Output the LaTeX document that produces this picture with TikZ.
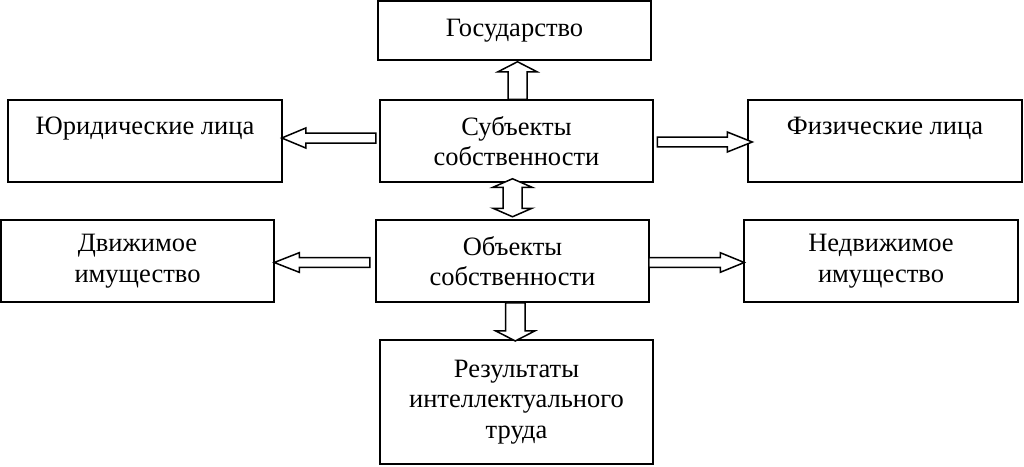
\documentclass[tikz,border=0pt]{standalone}
\usepackage{fontspec}
\setmainfont{Liberation Serif}
\usetikzlibrary{calc}
\tikzset{
  box/.style={draw, line width=1.5pt, rectangle, inner sep=0pt, align=center,
    font=\fontsize{26.5}{30.5}\selectfont},
  arr/.style={draw, line width=1.5pt, fill=white, line join=miter},
}
% vertical single block arrow: start, tip, shaft half width, head half width, head length
\newcommand\varrow[5]{%
  \path[arr] let \p1=(#1), \p2=(#2), \n1={sign(\y2-\y1)} in
   (\x1-#3pt,\y1) -- (\x1-#3pt,\y2-\n1*#5pt) -- (\x1-#4pt,\y2-\n1*#5pt) -- (\x1,\y2)
   -- (\x1+#4pt,\y2-\n1*#5pt) -- (\x1+#3pt,\y2-\n1*#5pt) -- (\x1+#3pt,\y1) -- cycle;}
% horizontal single block arrow
\newcommand\harrow[5]{%
  \path[arr] let \p1=(#1), \p2=(#2), \n1={sign(\x2-\x1)} in
   (\x1,\y1-#3pt) -- (\x2-\n1*#5pt,\y1-#3pt) -- (\x2-\n1*#5pt,\y1-#4pt) -- (\x2,\y1)
   -- (\x2-\n1*#5pt,\y1+#4pt) -- (\x2-\n1*#5pt,\y1+#3pt) -- (\x1,\y1+#3pt) -- cycle;}
% vertical double block arrow: tip1, tip2
\newcommand\vdarrow[5]{%
  \path[arr] let \p1=(#1), \p2=(#2), \n1={sign(\y2-\y1)} in
   (\x1,\y1) -- (\x1+#4pt,\y1+\n1*#5pt) -- (\x1+#3pt,\y1+\n1*#5pt) -- (\x1+#3pt,\y2-\n1*#5pt)
   -- (\x1+#4pt,\y2-\n1*#5pt) -- (\x1,\y2) -- (\x1-#4pt,\y2-\n1*#5pt) -- (\x1-#3pt,\y2-\n1*#5pt)
   -- (\x1-#3pt,\y1+\n1*#5pt) -- (\x1-#4pt,\y1+\n1*#5pt) -- cycle;}
\begin{document}
\begin{tikzpicture}[x=1pt,y=-1pt]
\useasboundingbox (0,0) rectangle (1024,466);
\node[box, minimum width=273pt, minimum height=59pt] (gos) at (514.5,30.5) {Государство};
\node[box, minimum width=273pt, minimum height=82pt] (subj) at (516.5,141) {Субъекты\\собственности};
\node[box, minimum width=274pt, minimum height=82pt] (jur) at (145,141) {Юридические лица\\\phantom{л}};
\node[box, minimum width=274pt, minimum height=82pt] (fiz) at (885,141) {Физические лица\\\phantom{л}};
\node[box, minimum width=273pt, minimum height=82pt] (dvi) at (137.5,261) {Движимое\\имущество};
\node[box, minimum width=273pt, minimum height=82pt] (obj) at (512.5,261) {Объекты\\собственности};
\node[box, minimum width=274pt, minimum height=82pt] (ned) at (881,261) {Недвижимое\\имущество};
\node[box, minimum width=273pt, minimum height=124pt] (res) at (516.5,402) {Результаты\\интеллектуального\\труда};
% connector end points
\coordinate (a1s) at ($(subj.north)+(1,0)$);
\coordinate (a1e) at ($(gos.south)+(3,1)$);
\coordinate (a2s) at ($(subj.west)+(-3.5,-3)$);
\coordinate (a2e) at ($(jur.east)+(-1,-3)$);
\coordinate (a3s) at ($(subj.east)+(3.5,1)$);
\coordinate (a3e) at ($(fiz.west)+(5,1)$);
\coordinate (a4s) at ($(subj.south)+(-4,-4)$);
\coordinate (a4e) at ($(obj.north)+(0,-2.5)$);
\coordinate (a5s) at ($(obj.west)+(-5.5,1.5)$);
\coordinate (a5e) at ($(dvi.east)+(-0.5,1.5)$);
\coordinate (a6s) at ($(obj.east)+(-1,1.5)$);
\coordinate (a6e) at ($(ned.west)+(1,1.5)$);
\coordinate (a7s) at ($(obj.south)+(2.8,0)$);
\coordinate (a7e) at ($(res.north)+(-1.2,1.7)$);
\varrow{a1s}{a1e}{9.5}{19.5}{10}
\harrow{a2s}{a2e}{5}{10}{24}
\harrow{a3s}{a3e}{4.8}{10}{25}
\vdarrow{a4s}{a4e}{9.5}{19.5}{8.5}
\harrow{a5s}{a5e}{4.8}{9.8}{25}
\harrow{a6s}{a6e}{4.8}{9.8}{24}
\varrow{a7s}{a7e}{9.7}{19.5}{10}
\end{tikzpicture}
\end{document}
